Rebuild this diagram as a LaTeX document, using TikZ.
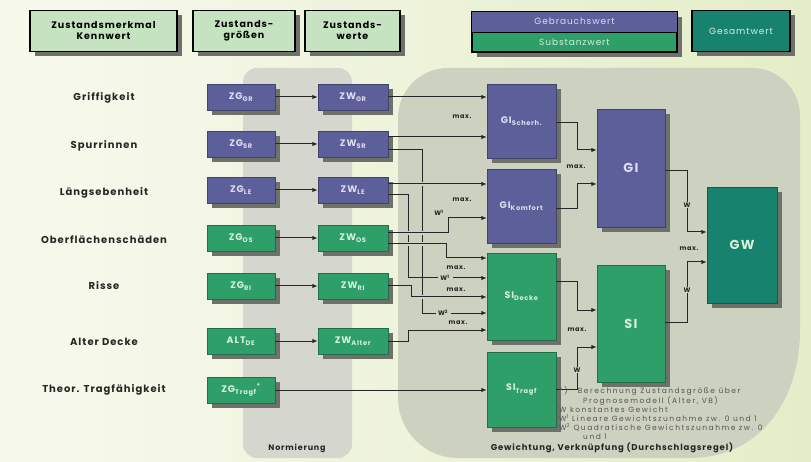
\documentclass[tikz,border=0pt]{standalone}
\usepackage{fontspec}
\setmainfont{Poppins}[LetterSpace=10]
\usetikzlibrary{calc,arrows.meta}
\definecolor{bgL}{HTML}{F8F9EE}
\definecolor{bgR}{HTML}{E4EDC8}
\definecolor{bandc}{HTML}{D5D7CE}
\definecolor{regc}{HTML}{CDD1C0}
\definecolor{hdrc}{HTML}{C5E3C0}
\definecolor{gpur}{HTML}{5C5F9A}
\definecolor{ggrn}{HTML}{2E9F69}
\definecolor{gteal}{HTML}{17836E}
\definecolor{ptxt}{HTML}{DCDDF0}
\definecolor{gtxt}{HTML}{D5F0DC}
\definecolor{fnc}{HTML}{555555}
\definecolor{shc}{HTML}{6E706A}
\tikzset{
  hdr/.style={draw=black, line width=1.2pt, fill=hdrc, align=center, inner sep=0pt,
    font=\fontsize{9.5}{11}\selectfont\bfseries},
  pbox/.style={draw=gpur!70!black, line width=0.5pt, fill=gpur, text=ptxt, inner sep=0pt,
    font=\fontsize{9.5}{10}\selectfont\bfseries},
  gbox/.style={draw=ggrn!70!black, line width=0.5pt, fill=ggrn, text=gtxt, inner sep=0pt,
    font=\fontsize{9.5}{10}\selectfont\bfseries},
  tbox/.style={gbox, fill=gteal, draw=gteal!70!black},
  big/.style={font=\fontsize{13}{14}\selectfont\bfseries},
  lbl/.style={font=\fontsize{10}{11}\selectfont\bfseries, text=black!85},
  conn/.style={draw=black!85, line width=1pt, -{Latex[length=5.5pt,width=4.5pt]}},
  gap/.style={preaction={draw=regc, line width=4pt, shorten <=12pt, shorten >=6pt, -}},
  mx/.style={font=\fontsize{6.5}{7}\selectfont\bfseries, inner sep=0.5pt, text=black!85},
  wl/.style={mx, fill=regc},
}
% #1 name, #2 x, #3 y, #4 width, #5 height, #6 style, #7 text
\newcommand\mkbox[7]{%
  \pgfmathsetmacro\mkxa{#2-#4/2+5}\pgfmathsetmacro\mkxb{#2+#4/2+5}%
  \pgfmathsetmacro\mkya{#3-#5/2+5}\pgfmathsetmacro\mkyb{#3+#5/2+5}%
  \fill[shc] (\mkxa pt,-\mkya pt) rectangle (\mkxb pt,-\mkyb pt);
  \node[#6, minimum width=#4pt, minimum height=#5pt] (#1) at (#2,#3) {#7};}
\begin{document}
\begin{tikzpicture}[x=1pt,y=-1pt]
\useasboundingbox (0,0) rectangle (811,462);
\shade[left color=bgL, right color=bgR] (0,0) rectangle (811,462);
\fill[bandc, rounded corners=14pt] (243,68) rectangle (352,458);
\fill[regc] (398,398) -- (398,118) .. controls (398,90.4) and (420.4,68) .. (448,68)
  -- (752,68) .. controls (778.5,68) and (800,89.5) .. (800,116)
  -- (800,330) .. controls (800,400) and (760,458) .. (690,458)
  -- (458,458) .. controls (424.9,458) and (398,431.1) .. (398,398) -- cycle;
\node[mx, font=\fontsize{8}{9}\selectfont\bfseries] (norm) at (297,448) {Normierung};
\node[mx, font=\fontsize{8.5}{9}\selectfont\bfseries] (gewv) at (612,448) {Gewichtung, Verknüpfung (Durchschlagsregel)};
% headers
\mkbox{h1}{103.5}{31}{147}{41}{hdr}{Zustandsmerkmal\\Kennwert}
\mkbox{h2}{244}{31}{102}{41}{hdr}{Zustands-\\größen}
\mkbox{h3}{352.5}{31}{95}{41}{hdr}{Zustands-\\werte}
\mkbox{h4}{574.5}{32}{205}{40}{hdr, fill=ggrn}{}
\fill[gpur] (h4.north west) rectangle (h4.east);
\draw[line width=1.2pt] (h4.north west) rectangle (h4.south east);
\draw[line width=0.8pt] (h4.west) -- (h4.east);
\node[font=\fontsize{9}{10}\selectfont, text=ptxt] (gb) at ($(h4.north)!0.5!(h4.center)$) {Gebrauchswert};
\node[font=\fontsize{9}{10}\selectfont, text=gtxt] (sb) at ($(h4.south)!0.5!(h4.center)$) {Substanzwert};
\mkbox{h5}{741}{31}{98}{41}{hdr, fill=gteal, text=gtxt, font=\fontsize{9}{10}\selectfont}{Gesamtwert}
% left labels
\node[lbl] (l1) at (104,98) {Griffigkeit};
\node[lbl] (l2) at (104,146) {Spurrinnen};
\node[lbl] (l3) at (104,193) {Längsebenheit};
\node[lbl] (l4) at (104,240) {Oberflächenschäden};
\node[lbl] (l5) at (104,286) {Risse};
\node[lbl] (l6) at (104,342) {Alter Decke};
\node[lbl] (l7) at (104,390) {Theor. Tragfähigkeit};
% ZG boxes
\mkbox{zg1}{241}{97}{68}{26}{pbox}{ZG\textsubscript{GR}}
\mkbox{zg2}{241}{144}{68}{26}{pbox}{ZG\textsubscript{SR}}
\mkbox{zg3}{241}{190}{68}{26}{pbox}{ZG\textsubscript{LE}}
\mkbox{zg4}{241}{238}{68}{26}{gbox}{ZG\textsubscript{OS}}
\mkbox{zg5}{241}{286}{68}{26}{gbox}{ZG\textsubscript{RI}}
\mkbox{zg6}{241}{341}{68}{26}{gbox}{ALT\textsubscript{DE}}
\mkbox{zg7}{241}{390}{68}{26}{gbox}{ZG\textsubscript{Tragf}\textsuperscript{*}}
% ZW boxes
\mkbox{zw1}{353}{97}{70}{26}{pbox}{ZW\textsubscript{GR}}
\mkbox{zw2}{353}{144}{70}{26}{pbox}{ZW\textsubscript{SR}}
\mkbox{zw3}{353}{190}{70}{26}{pbox}{ZW\textsubscript{LE}}
\mkbox{zw4}{353}{238}{70}{26}{gbox}{ZW\textsubscript{OS}}
\mkbox{zw5}{353}{286}{70}{26}{gbox}{ZW\textsubscript{RI}}
\mkbox{zw6}{353}{341}{70}{26}{gbox}{ZW\textsubscript{Alter}}
% index boxes
\mkbox{GIs}{521.5}{121}{69}{74}{pbox}{GI\textsubscript{Scherh.}}
\mkbox{GIk}{521.5}{206}{69}{74}{pbox}{GI\textsubscript{Komfort}}
\mkbox{SId}{521.5}{296.5}{69}{87}{gbox}{SI\textsubscript{Decke}}
\mkbox{SIt}{521.5}{389.5}{69}{75}{gbox}{SI\textsubscript{Tragf}}
\mkbox{GI}{631}{168}{68}{118}{pbox, big}{GI}
\mkbox{SI}{631}{323.5}{68}{117}{gbox, big}{SI}
\mkbox{GW}{742}{245}{70}{116}{tbox, big}{GW}
% helper coordinates
\coordinate (vA) at (422,0);
\coordinate (vB) at (408,0);
\coordinate (vD) at (411,0);
\coordinate (vC) at (448,0);
\coordinate (vC2) at (446,0);
\coordinate (vE) at (577,0);
\coordinate (vF) at (687,0);
\coordinate (sd1) at ([yshift=38.5pt]SId.west);
\coordinate (sd2) at ([yshift=18.5pt]SId.west);
\coordinate (sd3) at ([yshift=-0.5pt]SId.west);
\coordinate (sd4) at ([yshift=-16.5pt]SId.west);
\coordinate (sd5) at ([yshift=-33.5pt]SId.west);
\coordinate (gk2) at ([yshift=-12pt]GIk.west);
\coordinate (gi1) at ([yshift=18pt]GI.west);
\coordinate (gi2) at ([yshift=-16pt]GI.west);
\coordinate (gw1) at ([yshift=13pt]GW.west);
\coordinate (gw2) at ([yshift=-17pt]GW.west);
\coordinate (si1) at ([yshift=13.5pt]SI.west);
\coordinate (si2) at ([yshift=-23.5pt]SI.west);
% connectors
\foreach \i in {1,...,6} \draw[conn] (zg\i.east) -- (zw\i.west);
\draw[conn] (zg7.east) -- (zg7.east -| SIt.west);
\draw[conn] (zw1.east) -- (zw1.east -| GIs.west);
\draw[conn] ([yshift=7pt]zw2.east) -- ([yshift=7pt]zw2.east -| GIs.west);
\draw[conn] ([yshift=-6pt]zw2.east) -| (vA |- sd4) -- (sd4);
\draw[conn] ([yshift=-5pt]zw3.east) -| (vB |- sd2) -- (sd2);
\draw[conn] (zw6.east) -| (vB |- sd5) -- (sd5);
\draw[conn,gap] ([yshift=6pt]zw3.east) -- ([yshift=6pt]zw3.east -| GIk.west);
\draw[conn,gap] ([yshift=5pt]zw4.east) -| (vC |- gk2) -- (gk2);
\draw[conn,gap] ([yshift=-6pt]zw4.east) -| (vC2 |- sd1) -- (sd1);
\draw[conn,gap] (zw5.east) -| (vD |- sd3) -- (sd3);
\draw[conn] ([yshift=-2pt]GIs.east) -| (vE |- gi1) -- (gi1);
\draw[conn] ([yshift=-3pt]GIk.east) -| (vE |- gi2) -- (gi2);
\draw[conn] ([yshift=-3pt]GI.east) -| (vF |- gw1) -- (gw1);
\draw[conn] ([yshift=1pt]SI.east) -| (vF |- gw2) -- (gw2);
\draw[conn] ([yshift=14.5pt]SId.east) -| (vE |- si1) -- (si1);
\draw[conn] (SIt.east) -| (vE |- si2) -- (si2);
% labels
\node[mx] (m1) at (462,117) {max.};
\node[mx] (m2) at (462,200) {max.};
\node[mx] (m3) at (456,268) {max.};
\node[mx] (m4) at (456,290) {max.};
\node[mx] (m5) at (458,323) {max.};
\node[mx] (m6) at (576,167) {max.};
\node[mx] (m7) at (577,330) {max.};
\node[mx] (m8) at (689,249) {max.};
\node[mx] (w1) at (439,213) {W\textsuperscript{1}};
\node[wl, minimum width=15pt] (w2) at (445,278) {W\textsuperscript{1}};
\node[wl, minimum width=15pt] (w3) at (443,313) {W\textsuperscript{2}};
\node[wl] (w4) at (687,205) {W};
\node[wl] (w5) at (687,290) {W};
\node[wl] (w6) at (577,370) {W};
% footnote
\node[anchor=north west, align=left, inner sep=0pt, text=fnc,
  font=\fontsize{7.5}{9}\selectfont\addfontfeature{LetterSpace=20}] (fn) at (559,386)
  {*)\hspace{10pt}Berechnung Zustandsgröße über\\
   \hspace*{24pt}Prognosemodell (Alter, VB)\\
   W konstantes Gewicht\\
   W\textsuperscript{1} Lineare Gewichtszunahme zw. 0 und 1\\
   W\textsuperscript{2} Quadratische Gewichtszunahme zw. 0\\
   \hspace*{24pt}und 1};
\end{tikzpicture}
\end{document}
